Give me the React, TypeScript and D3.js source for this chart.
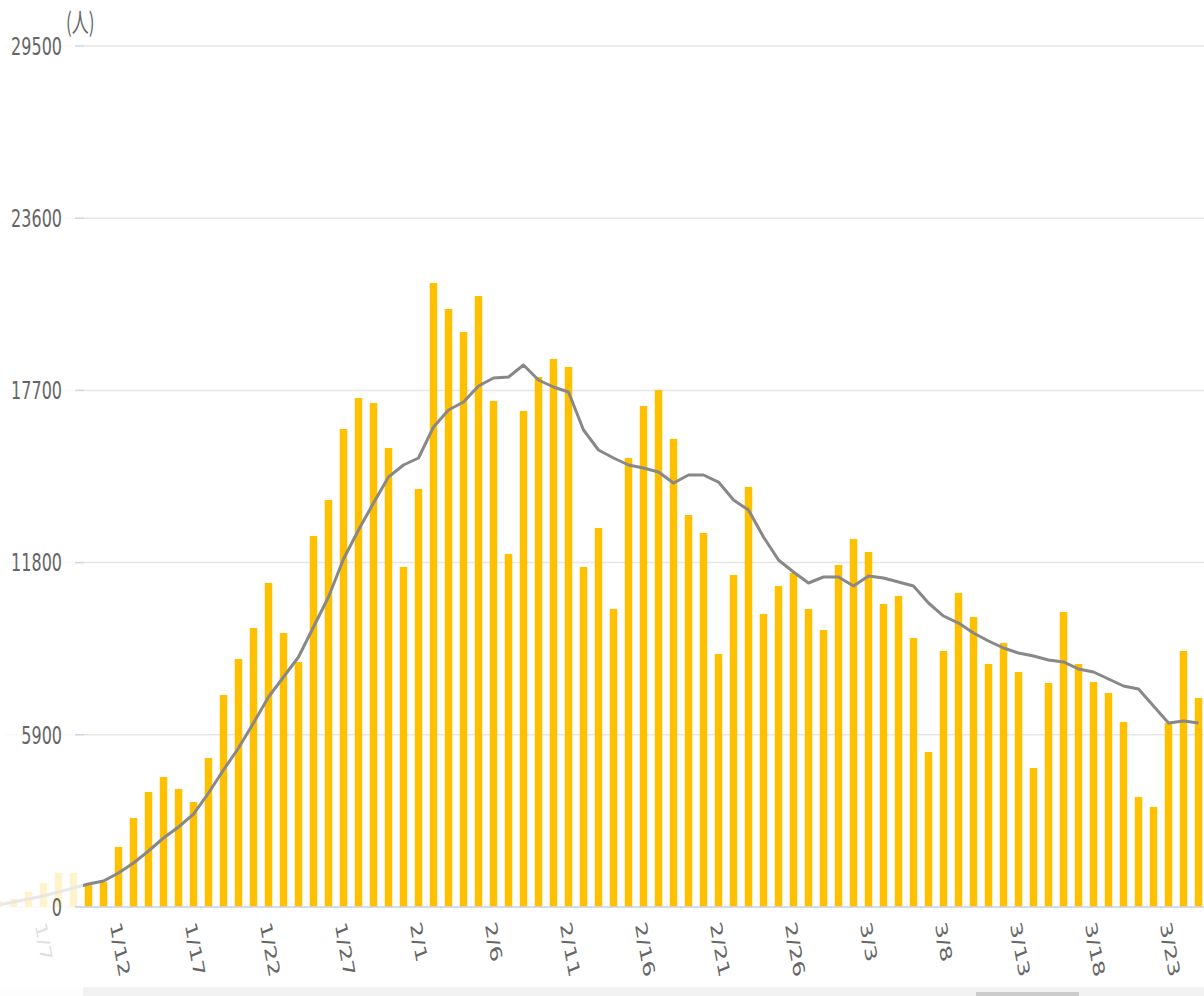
import React from "react";
import * as d3 from "d3";

// daily counts, 1/4 .. 3/25
const dates = [
  "1/4", "1/5", "1/6", "1/7", "1/8", "1/9", "1/10", "1/11", "1/12", "1/13", "1/14", "1/15", "1/16", "1/17",
  "1/18", "1/19", "1/20", "1/21", "1/22", "1/23", "1/24", "1/25", "1/26", "1/27", "1/28", "1/29", "1/30", "1/31",
  "2/1", "2/2", "2/3", "2/4", "2/5", "2/6", "2/7", "2/8", "2/9", "2/10", "2/11", "2/12", "2/13", "2/14",
  "2/15", "2/16", "2/17", "2/18", "2/19", "2/20", "2/21", "2/22", "2/23", "2/24", "2/25", "2/26", "2/27", "2/28",
  "3/1", "3/2", "3/3", "3/4", "3/5", "3/6", "3/7", "3/8", "3/9", "3/10", "3/11", "3/12", "3/13", "3/14",
  "3/15", "3/16", "3/17", "3/18", "3/19", "3/20", "3/21", "3/22", "3/23", "3/24", "3/25",
];

const cases = [
  200, 274, 524, 822, 1175, 1175, 754, 857, 2056, 3049, 3940, 4454, 4043, 3597,
  5105, 7264, 8497, 9559, 11101, 9388, 8394, 12711, 13945, 16377, 17439, 17268, 15726, 11649,
  14322, 21380, 20489, 19701, 20934, 17337, 12094, 16994, 18159, 18776, 18501, 11649, 12985, 10210,
  15384, 17165, 17713, 16035, 13431, 12814, 8668, 11375, 14390, 10039, 10998, 11443, 10210, 9491,
  11718, 12608, 12163, 10381, 10655, 9216, 5311, 8771, 10758, 9936, 8326, 9045, 8052, 4762,
  7675, 10107, 8326, 7709, 7332, 6338, 3769, 3426, 6304, 8771, 7161,
];

// 7-day average
const avg7 = [
  69, 171, 274, 377, 514, 651, 788, 891, 1165, 1508, 1919, 2364, 2741, 3186,
  3906, 4694, 5448, 6304, 7195, 7880, 8566, 9593, 10621, 11923, 12917, 13842, 14733, 15144,
  15384, 16446, 17028, 17302, 17851, 18125, 18159, 18570, 18056, 17816, 17645, 16343, 15658, 15384,
  15144, 15041, 14904, 14527, 14801, 14801, 14561, 13945, 13602, 12677, 11889, 11478, 11101, 11307,
  11307, 10998, 11341, 11272, 11135, 10998, 10416, 9970, 9730, 9388, 9114, 8874, 8703, 8600,
  8463, 8395, 8154, 8052, 7812, 7572, 7469, 6887, 6304, 6373, 6304,
];

const yTicks = [0, 5900, 11800, 17700, 23600, 29500];
const xTickLabels = [
  "1/7", "1/12", "1/17", "1/22", "1/27", "2/1", "2/6", "2/11", "2/16", "2/21", "2/26", "3/3", "3/8", "3/13", "3/18", "3/23",
];

const W = 1204;
const H = 996;
const SY = 1.54; // text looks vertically stretched
const FONT = "DejaVu Sans, sans-serif";

export default function App() {
  const x = d3
    .scaleBand<string>()
    .domain(dates)
    .range([-9, 1206])
    .paddingInner(0.5)
    .paddingOuter(0.25);
  const y = d3.scaleLinear().domain([0, 29500]).range([907, 46]);
  const cx = (d: string) => (x(d) as number) + x.bandwidth() / 2;

  const line = d3
    .line<number>()
    .x((_, i) => cx(dates[i]))
    .y((v) => y(v));

  return (
    <svg
      width={W}
      height={H}
      style={{ position: "absolute", left: 0, top: 0, background: "#fff" }}
      fontFamily={FONT}
    >
      {/* grid */}
      {yTicks.map((t) => (
        <line key={"g" + t} x1={5} x2={W} y1={y(t)} y2={y(t)} stroke="#e6e6e6" strokeWidth={1.5} />
      ))}

      {/* bars */}
      {dates.map((d, i) => (
        <rect
          key={"b" + d}
          x={x(d)}
          y={y(cases[i])}
          width={x.bandwidth()}
          height={y(0) - y(cases[i])}
          fill="#FFC000"
        />
      ))}

      {/* moving average */}
      <path d={line(avg7) || ""} fill="none" stroke="#888" strokeWidth={3} strokeLinejoin="round" />

      {/* x labels */}
      {xTickLabels.map((l) => (
        <text
          key={"x" + l}
          transform={`translate(${cx(l) - 8.5},925) scale(1,${SY}) rotate(75)`}
          fontSize={16}
          fill="#666"
        >
          {l}
        </text>
      ))}

      {/* scrollbar track */}
      <rect x={0} y={987} width={W} height={9} fill="#f2f2f2" />

      {/* fixed left part mask */}
      <rect x={0} y={0} width={83} height={H} fill="#fff" opacity={0.8} />

      {/* axis line + ticks */}
      <line x1={76} x2={W} y1={y(0)} y2={y(0)} stroke="#ccd6eb" strokeWidth={1.5} />
      {yTicks.map((t) => (
        <line key={"t" + t} x1={75} x2={84} y1={y(t)} y2={y(t)} stroke="#ccd6eb" strokeWidth={1.5} />
      ))}
      {yTicks.map((t) => (
        <text
          key={"y" + t}
          transform={`translate(62,${y(t)}) scale(1,${SY})`}
          textAnchor="end"
          dy="0.36em"
          fontSize={16}
          fill="#666"
        >
          {t}
        </text>
      ))}
      <text
        transform={`translate(66,32) scale(1,${SY})`}
        fontSize={17}
        fill="#666"
        fontFamily="Noto Sans CJK JP, sans-serif"
      >
        (人)
      </text>

      {/* scrollbar handle */}
      <rect x={976} y={992} width={103} height={4} fill="#cccccc" />
    </svg>
  );
}
